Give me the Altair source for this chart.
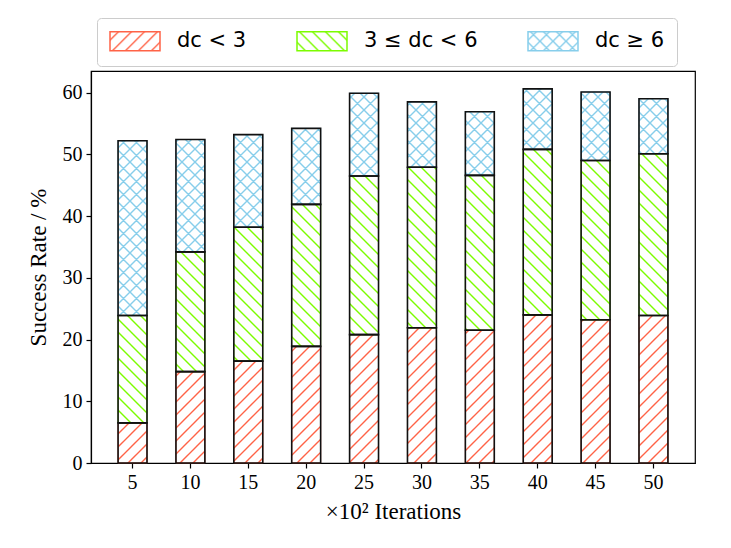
import altair as alt
import pandas as pd

# ---- data ----
iterations = ["5", "10", "15", "20", "25", "30", "35", "40", "45", "50"]
categories = ["dc < 3", "3 ≤ dc < 6", "dc ≥ 6"]
low_vals = [6.5, 14.8, 16.5, 18.9, 20.8, 21.9, 21.5, 24.0, 23.2, 23.9]
mid_vals = [17.4, 19.4, 21.7, 23.0, 25.7, 26.0, 25.1, 26.8, 25.8, 26.2]
high_vals = [28.3, 18.2, 15.0, 12.3, 13.4, 10.6, 10.3, 9.8, 11.1, 8.9]
y_ticks = [0, 10, 20, 30, 40, 50, 60]

hatch_colors = ["tomato", "lawngreen", "skyblue"]
hatch_fills = ["url(#hatchRed)", "url(#hatchGreen)", "url(#hatchBlue)"]

rows = []
for i, it in enumerate(iterations):
    for k, (cat, vals) in enumerate(zip(categories, [low_vals, mid_vals, high_vals])):
        rows.append({"it": it, "cat": cat, "k": k, "v": vals[i]})
df = pd.DataFrame(rows)

SERIF = "Liberation Serif"

x_enc = alt.X(
    "it:N",
    sort=iterations,
    scale=alt.Scale(paddingInner=0.5, paddingOuter=0.4675),
    axis=alt.Axis(
        title="×10² Iterations",
        labelAngle=0,
        labelFont=SERIF,
        labelFontSize=20,
        labelColor="black",
        labelPadding=4,
        tickSize=5,
        tickColor="black",
        tickWidth=1.2,
        domainColor="black",
        domainWidth=1.2,
        titleFont=SERIF,
        titleFontSize=23,
        titleFontWeight="normal",
        titleColor="black",
        titlePadding=8,
    ),
)
y_enc = alt.Y(
    "v:Q",
    stack="zero",
    scale=alt.Scale(domain=[0, 63.5], nice=False),
    axis=alt.Axis(
        title="Success Rate / %",
        values=y_ticks,
        grid=False,
        labelFont=SERIF,
        labelFontSize=20,
        labelColor="black",
        labelPadding=4,
        tickSize=5,
        tickColor="black",
        tickWidth=1.2,
        domainColor="black",
        domainWidth=1.2,
        titleFont=SERIF,
        titleFontSize=23,
        titleFontWeight="normal",
        titleColor="black",
        titlePadding=12,
    ),
)

legend = alt.Legend(
    orient="none",
    legendX=6,
    legendY=-53,
    direction="horizontal",
    symbolType="M-2.5,-0.95H2.5V0.95H-2.5Z",
    symbolSize=400,
    symbolOffset=15,
    symbolStrokeWidth=1.5,
    labelFont="DejaVu Sans",
    labelFontSize=21,
    labelColor="black",
    labelOffset=31,
    columnPadding=47,
    padding=12,
    strokeColor="#cccccc",
    cornerRadius=4,
    fillColor="white",
)

hatched = alt.Chart(df).mark_bar(strokeWidth=1).encode(
    x=x_enc,
    y=y_enc,
    fill=alt.Fill("cat:N", scale=alt.Scale(domain=categories, range=hatch_fills), legend=legend, title=None),
    stroke=alt.Stroke("cat:N", scale=alt.Scale(domain=categories, range=hatch_colors), legend=legend, title=None),
    order=alt.Order("k:Q", sort="ascending"),
)

outline = alt.Chart(df).mark_bar(fill="transparent", stroke="#111111", strokeWidth=1.6).encode(
    x=x_enc,
    y=y_enc,
    detail="cat:N",
    order=alt.Order("k:Q", sort="ascending"),
)

chart = (
    alt.layer(hatched, outline)
    .properties(
        width=604,
        height=392,
        padding={"left": 83, "top": 63, "right": 20, "bottom": 70},
        autosize=alt.AutoSizeParams(type="none"),
        background="white",
    )
    .configure_view(stroke="black", strokeWidth=1.2)
)

DEFS = """
<svg width="0" height="0" style="position:absolute;left:0;top:0" aria-hidden="true">
 <defs>
  <pattern id="hatchRed" patternUnits="userSpaceOnUse" width="13" height="13">
   <rect width="13" height="13" fill="white"/>
   <path d="M-3,3L3,-3M0,13L13,0M10,16L16,10" stroke="tomato" stroke-width="1.4" fill="none"/>
  </pattern>
  <pattern id="hatchGreen" patternUnits="userSpaceOnUse" width="13" height="13">
   <rect width="13" height="13" fill="white"/>
   <path d="M-3,10L3,16M0,0L13,13M10,-3L16,3" stroke="lawngreen" stroke-width="1.4" fill="none"/>
  </pattern>
  <pattern id="hatchBlue" patternUnits="userSpaceOnUse" width="13" height="13">
   <rect width="13" height="13" fill="white"/>
   <path d="M-3,3L3,-3M0,13L13,0M10,16L16,10M-3,10L3,16M0,0L13,13M10,-3L16,3" stroke="skyblue" stroke-width="1.4" fill="none"/>
  </pattern>
 </defs>
</svg>
"""


class HatchTemplate:
    def __init__(self, base, defs):
        self.base = base
        self.defs = defs

    def render(self, **kw):
        html = self.base.render(**kw)
        if "<body>" in html:
            return html.replace("<body>", "<body>\n" + self.defs, 1)
        return self.defs + html


try:
    from altair.utils.html import TEMPLATES

    chart.save(
        "out.html",
        embed_options={"renderer": "svg", "actions": False},
        template=HatchTemplate(TEMPLATES["standard"], DEFS),
    )
except Exception:
    chart.save("out.html", embed_options={"renderer": "svg", "actions": False})
